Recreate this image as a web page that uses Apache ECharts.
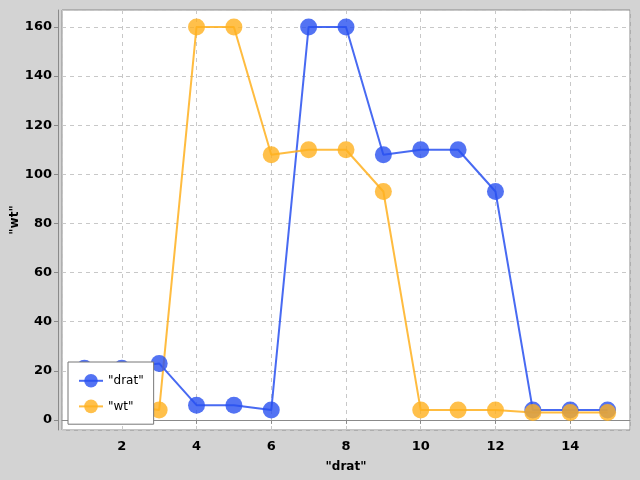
<!DOCTYPE html>
<html>
<head>
<meta charset="utf-8">
<script src="https://cdn.jsdelivr.net/npm/echarts@6/dist/echarts.min.js"></script>
<style>
  html,body{margin:0;padding:0;background:#d3d3d3}
  #main{width:640px;height:480px}
</style>
</head>
<body>
<div id="main"></div>
<script>
// x positions
let xs = [1,2,3,4,5,6,7,8,9,10,11,12,13,14,15]
// "drat" series
let drat = [21,21,23,6,6,4,160,160,108,110,110,93,4,4,4]
// "wt" series
let wt = [6,6,4,160,160,108,110,110,93,4,4,4,3,3,3]
let names = ['"drat"','"wt"']

let pairs = (ys)=>xs.map((x,i)=>[x,ys[i]])

let myChart = echarts.init(document.getElementById('main'))
let font = 'DejaVu Sans'
let option = {
  backgroundColor:'#d3d3d3',
  animation:false,
  textStyle:{fontFamily:font},
  grid:{
    left:62, right:10, top:10, bottom:50,
    outerBoundsMode:'none',
    containLabel:false,
    show:true,
    backgroundColor:'#ffffff',
    borderColor:'#8a8a8a',
    borderWidth:1
  },
  legend:{
    left:68, top:362,
    orient:'vertical',
    backgroundColor:'#ffffff',
    borderColor:'#777',
    borderWidth:1,
    borderRadius:0,
    padding:[12,10,11,10],
    itemGap:12,
    itemWidth:24,
    itemHeight:17,
    textStyle:{fontFamily:font,fontSize:12,color:'#000'},
    data:names
  },
  xAxis:{
    type:'value',
    min:0.4, max:15.6,
    splitNumber:8,
    offset:4,
    name:'"drat"',
    nameLocation:'middle',
    nameGap:27,
    nameTextStyle:{fontFamily:font,fontWeight:'bold',fontSize:12,color:'#000'},
    axisLine:{show:true,lineStyle:{color:'#8a8a8a'}},
    axisTick:{show:true,length:4,lineStyle:{color:'#8a8a8a'}},
    axisLabel:{showMinLabel:false,showMaxLabel:false,fontFamily:font,fontWeight:'bold',fontSize:13,color:'#000',margin:6},
    splitLine:{show:true,lineStyle:{color:'#c8c8c8',type:[4,4]}}
  },
  yAxis:{
    type:'value',
    min:-4.1, max:166.9,
    splitNumber:9,
    offset:4,
    name:'"wt"',
    nameLocation:'middle',
    nameGap:37,
    nameMoveOverlap:false,
    nameTextStyle:{fontFamily:font,fontWeight:'bold',fontSize:12,color:'#000'},
    axisLine:{show:true,lineStyle:{color:'#8a8a8a'}},
    axisTick:{show:true,length:4,lineStyle:{color:'#8a8a8a'}},
    axisLabel:{showMinLabel:false,showMaxLabel:false,fontFamily:font,fontWeight:'bold',fontSize:13,color:'#000',margin:6},
    splitLine:{show:true,lineStyle:{color:'#c8c8c8',type:[4,4]}}
  },
  series:[
    {
      name:names[0],
      type:'line',
      data:pairs(drat),
      symbol:'circle',
      symbolSize:17,
      color:'rgba(40,80,240,0.8)',
      lineStyle:{width:2,color:'rgba(40,80,240,0.85)'},
      itemStyle:{color:'rgba(40,80,240,0.8)'}
    },
    {
      name:names[1],
      type:'line',
      data:pairs(wt),
      symbol:'circle',
      symbolSize:17,
      color:'rgba(255,176,30,0.8)',
      lineStyle:{width:2,color:'rgba(255,176,30,0.85)'},
      itemStyle:{color:'rgba(255,176,30,0.8)'}
    }
  ]
}
myChart.setOption(option)
</script>
</body>
</html>
